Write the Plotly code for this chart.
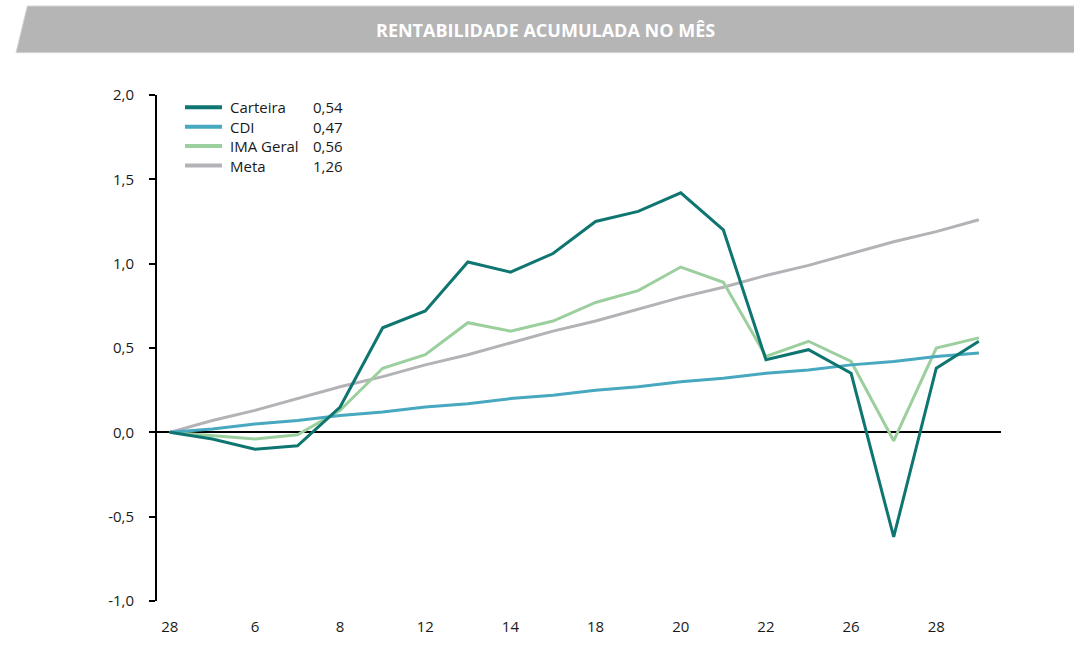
import plotly.graph_objects as go

# ---- data ----
dias = ["28", "5", "6", "7", "8", "11", "12", "13", "14", "15",
        "18", "19", "20", "21", "22", "25", "26", "27", "28", "29"]
carteira = [0.00, -0.04, -0.10, -0.08, 0.15, 0.62, 0.72, 1.01, 0.95, 1.06,
            1.25, 1.31, 1.42, 1.20, 0.43, 0.49, 0.35, -0.62, 0.38, 0.54]
cdi = [0.00, 0.02, 0.05, 0.07, 0.10, 0.12, 0.15, 0.17, 0.20, 0.22,
       0.25, 0.27, 0.30, 0.32, 0.35, 0.37, 0.40, 0.42, 0.45, 0.47]
ima_geral = [0.00, -0.02, -0.04, -0.015, 0.13, 0.38, 0.46, 0.65, 0.60, 0.66,
             0.77, 0.84, 0.98, 0.89, 0.45, 0.54, 0.42, -0.05, 0.50, 0.56]
meta = [0.00, 0.07, 0.13, 0.20, 0.27, 0.33, 0.40, 0.46, 0.53, 0.60,
        0.66, 0.73, 0.80, 0.86, 0.93, 0.99, 1.06, 1.13, 1.19, 1.26]
serie_nomes = ["Carteira", "CDI", "IMA Geral", "Meta"]
y_ticks = [-1.0, -0.5, 0.0, 0.5, 1.0, 1.5, 2.0]
titulo = "RENTABILIDADE ACUMULADA NO MÊS"

# ---- style ----
W, H = 1074, 648
L, R, T, B = 157, 73, 95, 43
FONT = "Open Sans"
TXT = "#1a1a1a"
cores = {"Carteira": "#0e7570", "CDI": "#47a8c0", "IMA Geral": "#9ccf9e", "Meta": "#b3b3b7"}
larg = {"Carteira": 3, "CDI": 3, "IMA Geral": 3, "Meta": 3}
series = {"Carteira": carteira, "CDI": cdi, "IMA Geral": ima_geral, "Meta": meta}

def px(x):
    return (x - L) / (W - L - R)

def py(y):
    return (H - B - y) / (H - T - B)

def fmt(v, casas):
    return f"{v:.{casas}f}".replace(".", ",")

xs = list(range(len(dias)))
fig = go.Figure()
for nome in ["Meta", "IMA Geral", "CDI", "Carteira"]:
    fig.add_trace(go.Scatter(x=xs, y=series[nome], mode="lines", name=nome,
                             line=dict(color=cores[nome], width=larg[nome]),
                             showlegend=False, hoverinfo="skip"))

shapes = []
annotations = []

# banner
bt, bb = 5.3, 52.3
shapes.append(dict(type="path", xref="paper", yref="paper",
                   path=f"M {px(27.3)},{py(bt)} L {px(W+2)},{py(bt)} L {px(W+2)},{py(bb)} L {px(16)},{py(bb)} Z",
                   fillcolor="#b5b5b5", line=dict(color="#d4d4d4", width=1), layer="below"))
annotations.append(dict(text=f"<b>{titulo}</b>", xref="paper", yref="paper",
                        x=px(545), y=py(29), xanchor="center", yanchor="middle",
                        showarrow=False, font=dict(family=FONT, size=18, color="white")))

# manual legend
leg_y0, leg_dy = 107.3, 19.6
for i, nome in enumerate(serie_nomes):
    yy = leg_y0 + i * leg_dy
    shapes.append(dict(type="line", xref="paper", yref="paper",
                       x0=px(185), x1=px(222), y0=py(yy), y1=py(yy),
                       line=dict(color=cores[nome], width=4)))
    annotations.append(dict(text=nome, xref="paper", yref="paper", x=px(228), y=py(yy),
                            xanchor="left", yanchor="middle", showarrow=False,
                            font=dict(family=FONT, size=15, color=TXT)))
    annotations.append(dict(text=fmt(series[nome][-1], 2), xref="paper", yref="paper", x=px(311), y=py(yy),
                            xanchor="left", yanchor="middle", showarrow=False,
                            font=dict(family=FONT, size=15, color=TXT)))

fig.update_layout(
    width=W, height=H,
    margin=dict(l=L, r=R, t=T, b=B, pad=0),
    paper_bgcolor="white", plot_bgcolor="white",
    font=dict(family=FONT, size=15, color=TXT),
    shapes=shapes, annotations=annotations,
    showlegend=False,
)
fig.update_xaxes(range=[-0.3, 19.52], tickmode="array", tickvals=xs[::2], ticktext=dias[::2],
                 showgrid=False, zeroline=False, showline=False, ticks="",
                 ticklabelstandoff=15, tickfont=dict(family=FONT, size=15, color=TXT),
                 fixedrange=True)
fig.update_yaxes(range=[-1.0, 2.0], tickmode="array", tickvals=y_ticks,
                 ticktext=[fmt(v, 1) for v in y_ticks],
                 showgrid=False, zeroline=True, zerolinecolor="black", zerolinewidth=2,
                 showline=True, linecolor="black", linewidth=2,
                 ticks="outside", ticklen=6, tickwidth=2, tickcolor="black",
                 ticklabelstandoff=12, tickfont=dict(family=FONT, size=15, color=TXT),
                 fixedrange=True)

fig.write_html("out.html", config={"displayModeBar": False},
               post_script="document.body.style.margin='0';document.body.style.overflow='hidden';")
